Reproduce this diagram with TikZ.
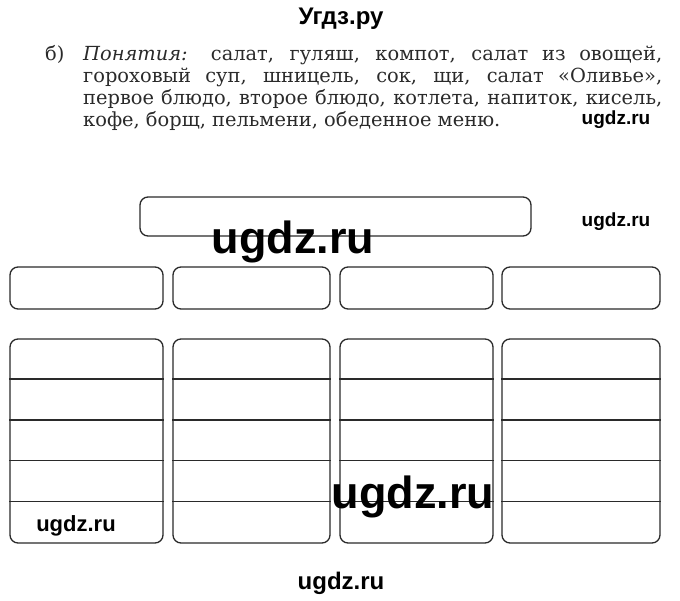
\documentclass[tikz,border=0pt]{standalone}
\usepackage{fontspec}
\setmainfont{DejaVu Serif}
\newfontfamily\wmfont{Liberation Sans}
\definecolor{ink}{HTML}{2A2A2A}

\begin{document}
\begin{tikzpicture}[x=1pt, y=-1pt]
        \tikzstyle{box}=[draw=ink, line width=1.3pt, rounded corners=8pt, inner sep=0pt]
        \tikzstyle{rule}=[draw=ink, line width=1.3pt]
        \tikzstyle{wmark}=[inner sep=0pt, text=black]
        \useasboundingbox (0,0) rectangle (680,601);

        % task text
        \node[anchor=base west, inner sep=0pt, text=ink, font=\fontsize{19.4}{22}\selectfont] (L) at (45,60.5) {б)};
        \node[anchor=base west, inner sep=0pt, text=ink, text width=579pt, align=justify,
              font=\fontsize{19.4}{22}\selectfont] (P) at (83,60.5)
              {\textit{Понятия:} салат, гуляш, компот, салат из овощей,\linebreak
               гороховый суп, шницель, сок, щи, салат «Оливье»,\linebreak
               первое блюдо, второе блюдо, котлета, напиток, кисель,\linebreak
               кофе, борщ, пельмени, обеденное меню.};

        % top box
        \node[box, minimum width=391pt, minimum height=39pt] (T) at (335.5,216.5) {};

        % second row and columns
        \foreach \k/\x/\w in {1/86.5/153, 2/251.5/157, 3/416.5/153, 4/581/158} {
            \node[box, minimum width=\w pt, minimum height=42pt] (G_\k) at (\x,288) {};
            \node[box, minimum width=\w pt, minimum height=204pt] (C_\k) at (\x,441) {};
            \foreach \r in {1,...,4}
                \draw[rule] ([yshift=-\r*40.8pt]C_\k.north west) -- ([yshift=-\r*40.8pt]C_\k.north east);
        }

        % watermarks
        \node[wmark, font=\wmfont\bfseries\fontsize{24}{28}\selectfont] (W_0) at (341,19) {Угдз.ру};
        \node[wmark, font=\wmfont\bfseries\fontsize{19}{22}\selectfont] (W_1) at (616,120) {ugdz.ru};
        \node[wmark, font=\wmfont\bfseries\fontsize{19}{22}\selectfont] (W_2) at (616,222) {ugdz.ru};
        \node[wmark, font=\wmfont\bfseries\fontsize{45}{50}\selectfont] (W_3) at (293,242) {ugdz.ru};
        \node[wmark, font=\wmfont\bfseries\fontsize{45}{50}\selectfont] (W_4) at (413,497) {ugdz.ru};
        \node[wmark, font=\wmfont\bfseries\fontsize{22}{26}\selectfont] (W_5) at (76,526) {ugdz.ru};
        \node[wmark, font=\wmfont\bfseries\fontsize{24}{28}\selectfont] (W_6) at (341,583) {ugdz.ru};
\end{tikzpicture}
\end{document}
